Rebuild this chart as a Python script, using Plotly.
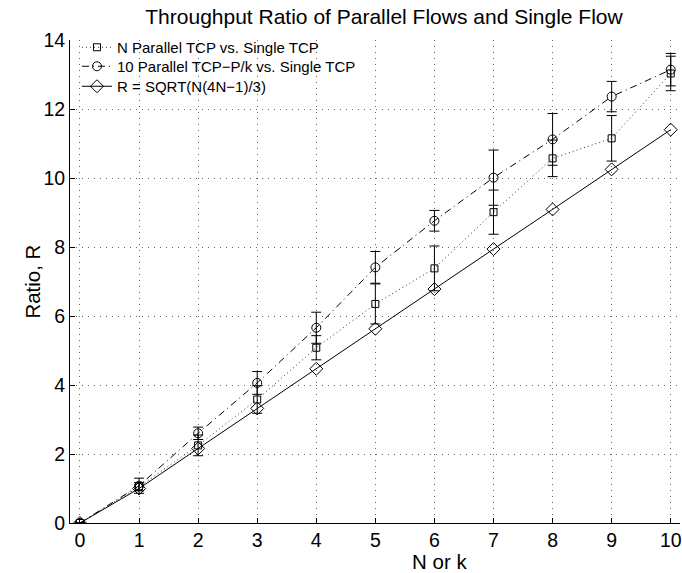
import plotly.graph_objects as go

x_vals = [0, 1, 2, 3, 4, 5, 6, 7, 8, 9, 10]

n_parallel = [0, 1.05, 2.25, 3.58, 5.08, 6.35, 7.38, 9.01, 10.57, 11.15, 13.03]
n_parallel_err = [0, 0.12, 0.3, 0.4, 0.35, 0.58, 0.65, 0.64, 0.53, 0.66, 0.5]

tcp_pk = [0, 1.08, 2.6, 4.06, 5.66, 7.41, 8.76, 10.01, 11.12, 12.36, 13.14]
tcp_pk_err = [0, 0.22, 0.18, 0.33, 0.45, 0.46, 0.3, 0.8, 0.75, 0.44, 0.47]

r_sqrt = [0, 1.0, 2.16, 3.32, 4.47, 5.63, 6.78, 7.94, 9.09, 10.25, 11.40]

names = ["N Parallel TCP vs. Single TCP",
         "10 Parallel TCP\u2212P/k vs. Single TCP",
         "R = SQRT(N(4N\u22121)/3)"]

title = "Throughput Ratio of Parallel Flows and Single Flow"
x_title = "N or k"
y_title = "Ratio, R"
x_ticks = [0, 1, 2, 3, 4, 5, 6, 7, 8, 9, 10]
y_ticks = [0, 2, 4, 6, 8, 10, 12, 14]

FONT = "Liberation Sans, Arial, Helvetica, sans-serif"
W, H = 682, 573
L, R, T, B = 70, 0, 40, 50
PW, PH = W - L - R, H - T - B

fig = go.Figure()
fig.add_trace(go.Scatter(
    x=x_vals, y=n_parallel, name=names[0], mode="lines+markers", legend="legend",
    line=dict(color="#333", width=1, dash="1px,3px"),
    marker=dict(symbol="square-open", size=7, color="black", line=dict(width=1)),
    error_y=dict(type="data", array=n_parallel_err, visible=True,
                 color="black", thickness=1, width=5),
))
fig.add_trace(go.Scatter(
    x=x_vals, y=tcp_pk, name=names[1], mode="lines+markers", legend="legend2",
    line=dict(color="black", width=1, dash="7px,4px,1px,4px"),
    marker=dict(symbol="circle-open", size=9, color="black", line=dict(width=1)),
    error_y=dict(type="data", array=tcp_pk_err, visible=True,
                 color="black", thickness=1, width=5),
))
fig.add_trace(go.Scatter(
    x=x_vals, y=r_sqrt, name=names[2], mode="lines+markers", legend="legend3",
    line=dict(color="black", width=1),
    marker=dict(symbol="diamond-open", size=10, color="black", line=dict(width=1)),
))

def leg(row_px):
    return dict(x=7 / PW, y=(H - B - row_px) / PH, xanchor="left", yanchor="middle",
                bgcolor="rgba(255,255,255,0)", borderwidth=0,
                font=dict(size=15), itemwidth=30)

fig.update_layout(
    width=W, height=H,
    margin=dict(l=L, r=R, t=T, b=B),
    paper_bgcolor="white", plot_bgcolor="white",
    font=dict(family=FONT, size=15, color="black"),
    title=dict(text=title, x=384 / W, xref="container", xanchor="center",
               y=1 - 17 / H, yref="container", yanchor="middle",
               font=dict(size=21)),
    showlegend=True,
    legend=leg(47.5), legend2=leg(66.5), legend3=leg(86.5),
    annotations=[
        dict(text=x_title, x=(441 - L) / PW, xref="paper", y=0, yref="paper",
             showarrow=False, font=dict(size=20.5),
             yanchor="middle", xanchor="center", yshift=-38),
        dict(text=y_title, x=(32 - L) / PW, xref="paper", y=0.5, yref="paper",
             showarrow=False, font=dict(size=20.5), textangle=-90,
             yanchor="middle", xanchor="center"),
    ],
)

fig.update_xaxes(
    range=[-0.169, 10.157], tickvals=x_ticks, ticktext=[str(v) for v in x_ticks],
    showline=True, linecolor="black", linewidth=1, mirror=False,
    ticks="inside", ticklen=5, tickcolor="black",
    showgrid=True, gridcolor="#666", gridwidth=1, griddash="1px,5px",
    zeroline=False, tickfont=dict(size=19.5), ticklabeloverflow="allow",
)
fig.update_yaxes(
    range=[0, 14], tickvals=y_ticks, ticktext=[str(v) for v in y_ticks],
    showline=True, linecolor="black", linewidth=1, mirror=False,
    ticks="inside", ticklen=5, tickcolor="black",
    showgrid=True, gridcolor="#666", gridwidth=1, griddash="1px,5px",
    zeroline=False, tickfont=dict(size=19.5),
)

fig.write_html("out.html")
